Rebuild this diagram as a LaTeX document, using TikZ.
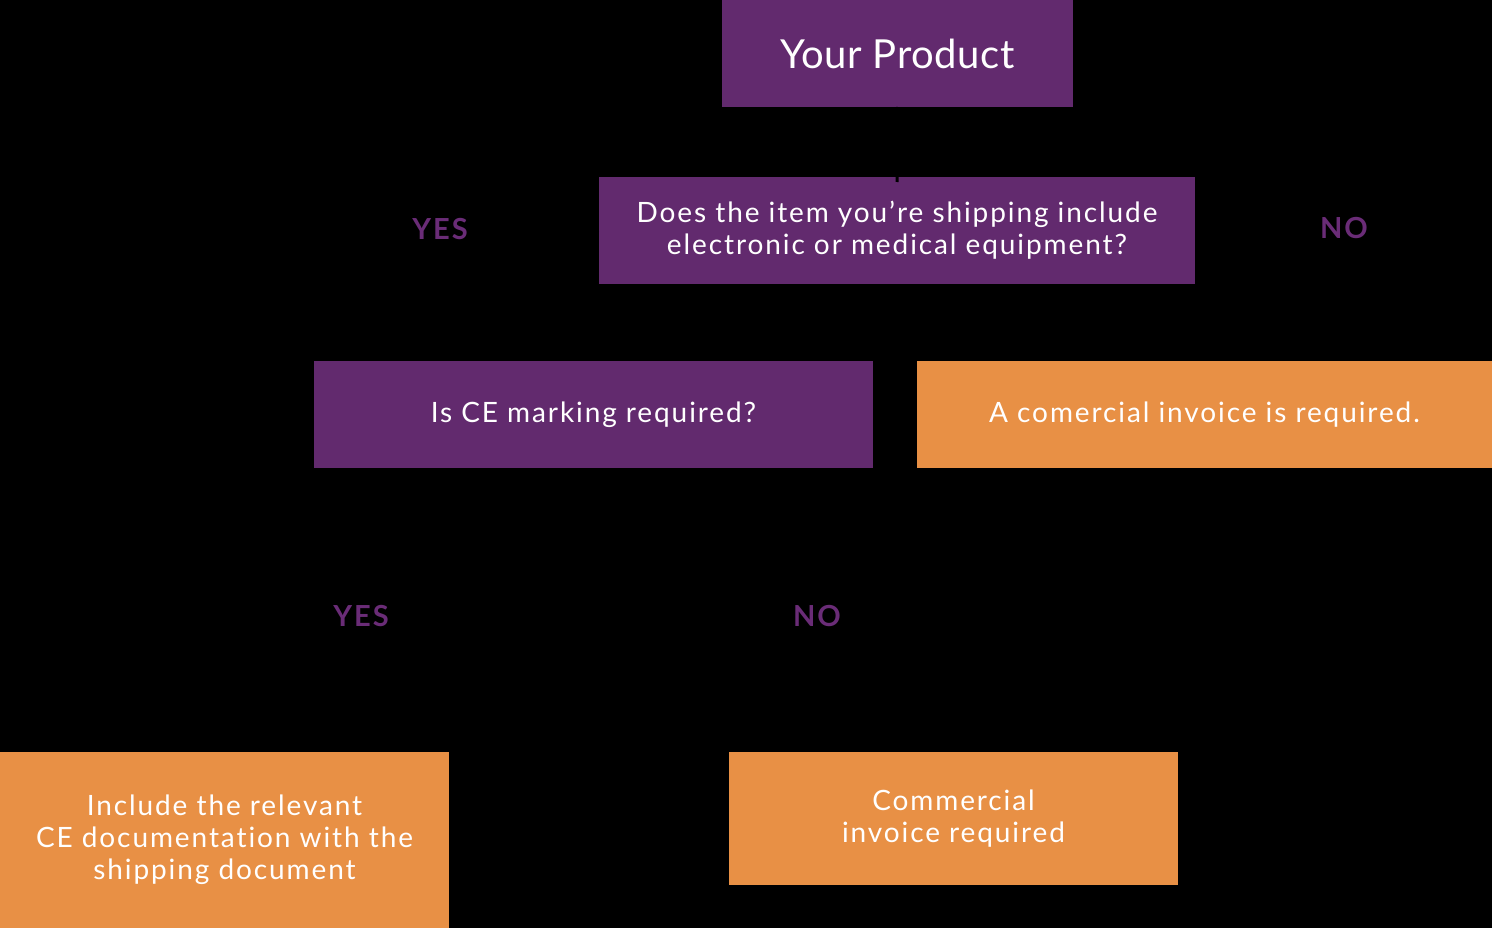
\documentclass[tikz,border=0pt]{standalone}
\usepackage{fontspec}
\setmainfont{Lato}
\newfontfamily\boxfont{Lato}[LetterSpace=6.8,Ligatures={NoCommon,NoRare}]
\newfontfamily\titlefont{Lato}[LetterSpace=1.5]
\newfontfamily\labfont{Lato}[LetterSpace=7]
\definecolor{pp}{HTML}{622A6E}
\definecolor{ppl}{HTML}{6A2C77}
\definecolor{og}{HTML}{E89045}
\begin{document}
\begin{tikzpicture}[x=1pt,y=-1pt,
  box/.style={inner sep=0pt,outer sep=0pt,text=white,align=center,font=\boxfont\fontsize{28}{32}\selectfont},
  pbox/.style={box,fill=pp},
  obox/.style={box,fill=og},
  lab/.style={text=ppl,font=\labfont\fontsize{29}{32}\selectfont\bfseries},
  conn/.style={draw=black,line width=3pt}]
\fill[black] (0,0) rectangle (1492,928);
\useasboundingbox (0,0) rectangle (1492,928);
\node[pbox,minimum width=351pt,minimum height=107pt,font=\titlefont\fontsize{40}{44}\selectfont] (prod) at (897.5,53.5) {Your Product};
\node[pbox,minimum width=596pt,minimum height=107pt] (q) at (897,230.5) {Does the item you’re shipping include\\electronic or medical equipment?};
\node[pbox,minimum width=559pt,minimum height=107pt] (ce) at (593.5,414.5) {Is CE marking required?};
\node[obox,minimum width=575pt,minimum height=107pt] (inv) at (1204.5,414.5) {A comercial invoice is required.};
\node[obox,minimum width=449pt,minimum height=176pt] (inc) at (224.5,840) {Include the relevant\\CE documentation with the\\shipping document};
\node[obox,minimum width=449pt,minimum height=133pt] (com) at (953.5,818.5) {Commercial\\invoice required};
\node[lab] (yes1) at (440,229) {YES};
\node[lab] (no1) at (1344,228) {NO};
\node[lab] (yes2) at (361,616) {YES};
\node[lab] (no2) at (817,616) {NO};
\draw[conn] (prod.south) -- ([yshift=-5pt]q.north);
\draw[conn] (q.west) -| (ce.north);
\draw[conn] (q.east) -| (inv.north);
\draw[conn] (ce.south) -- ++(0,80) -| (inc.north);
\draw[conn] (ce.south) -- ++(0,80) -| (com.north);
\end{tikzpicture}
\end{document}
